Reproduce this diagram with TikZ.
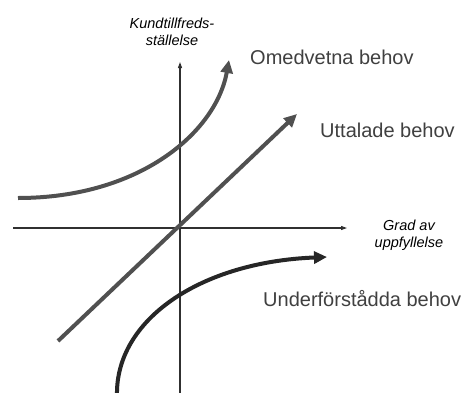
\documentclass[tikz,border=0pt]{standalone}
\usepackage{fontspec}
\setmainfont{Liberation Sans}
\usetikzlibrary{arrows.meta}
\definecolor{curvegray}{HTML}{505050}
\definecolor{darkcurve}{HTML}{262626}
\definecolor{axisgray}{HTML}{303030}
\definecolor{textgray}{HTML}{404040}
\tikzset{
  axisline/.style={draw=axisgray, line width=1.1pt, -{Triangle[length=6pt,width=4pt]}},
  curveline/.style={draw=curvegray, line width=4pt, -{Triangle[length=13pt,width=12pt]}},
  axislabel/.style={font=\fontsize{14.5}{17}\selectfont\itshape, text=black, align=center, inner sep=0pt},
  curvelabel/.style={font=\fontsize{20}{24}\selectfont, text=textgray, inner sep=0pt, anchor=west}
}
\begin{document}
\begin{tikzpicture}[x=1pt,y=-1pt]
\useasboundingbox (0,0) rectangle (475,392);
\fill[white] (0,0) rectangle (475,392);
% axes
\coordinate (ybot) at (180,394);
\coordinate (ytop) at (180,62);
\coordinate (xleft) at (13,228);
\coordinate (xright) at (347,228);
\draw[axisline] (ybot) -- (ytop);
\draw[axisline] (xleft) -- (xright);
% curves
\coordinate (os) at (18,198);
\coordinate (oe) at (229,60);
\draw[curveline] (os) .. controls (140,198) and (216,132) .. (oe);
\coordinate (us) at (58,341);
\coordinate (ue) at (297,114);
\draw[curveline] (us) -- (ue);
\coordinate (ds) at (117,396);
\coordinate (de) at (327,257);
\draw[curveline, draw=darkcurve] (ds) .. controls (115,320) and (200,262) .. (de);
% labels
\node[axislabel] (ylab) at (172,32) {Kundtillfreds-\\ställelse};
\node[axislabel] (xlab) at (409,235) {Grad av\\uppfyllelse};
\node[curvelabel] (omed) at (250,57) {Omedvetna behov};
\node[curvelabel] (utt) at (320,130) {Uttalade behov};
\node[curvelabel] (under) at (263,299) {Underförstådda behov};
\end{tikzpicture}
\end{document}
